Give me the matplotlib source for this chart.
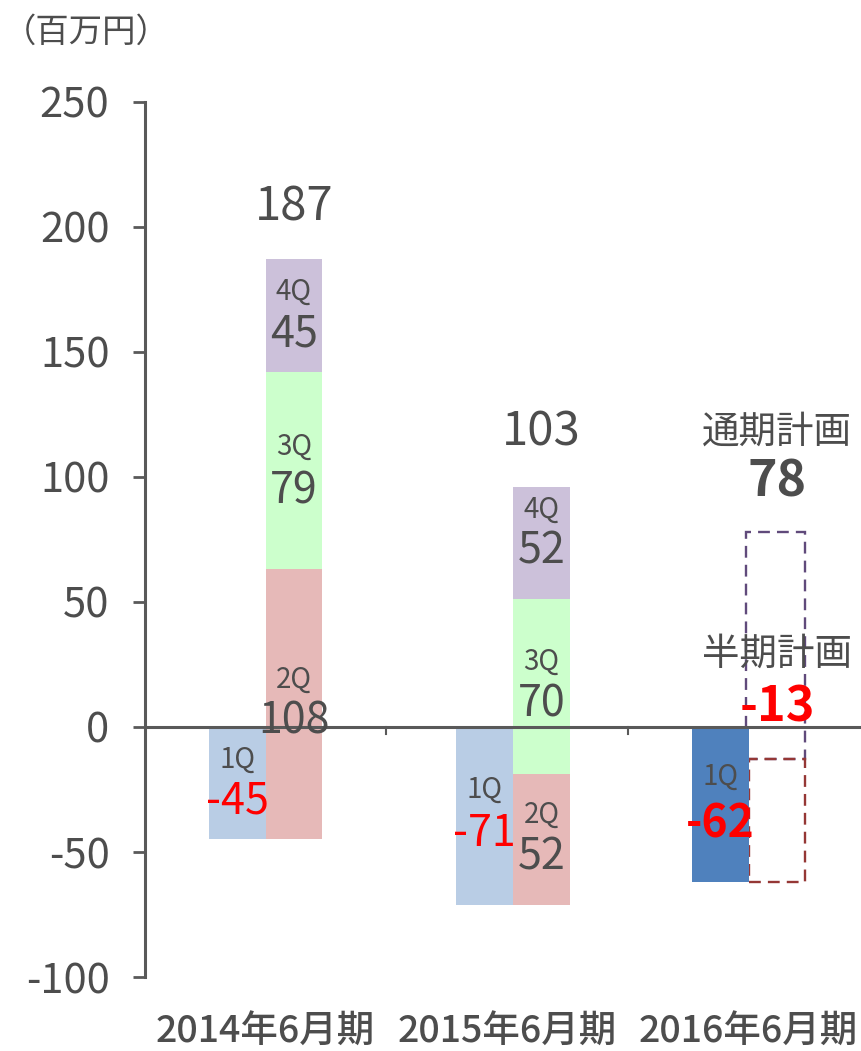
import matplotlib.pyplot as plt
from matplotlib.patches import Rectangle

plt.rcParams['font.family'] = ['Noto Sans CJK JP', 'DejaVu Sans']
plt.rcParams['axes.unicode_minus'] = False

# data (百万円)
categories = ['2014年6月期', '2015年6月期', '2016年6月期']
quarters = ['1Q', '2Q', '3Q', '4Q']
q_labels_2014 = [-45, 108, 79, 45]
q_labels_2015 = [-71, 52, 70, 52]
# drawn segment heights (2015 4Q is drawn shorter than its label in the original)
heights_2014 = [-45, 108, 79, 45]
heights_2015 = [-71, 52, 70, 45]
totals = [187, 103]
q1_2016 = -62
half_plan = -13
full_plan = 78

q_colors = ['#B9CDE5', '#E6B9B8', '#CCFFCC', '#CCC1DA']
dark_blue = '#4F81BD'
txt = '#4D4D4D'
red = '#FF0000'
w = 0.235
QS = 20   # quarter name size
VS = 31   # value size

fig = plt.figure(figsize=(8.62, 10.51), dpi=100)
ax = fig.add_axes([0.168, 0.0704, 0.832, 0.8326])
ax.set_ylim(-100, 250)
ax.set_xlim(-0.5, 2.47)


def draw_group(x, heights):
    # 1Q on the left, later quarters stacked on the right
    ax.bar(x - w / 2, heights[0], width=w, color=q_colors[0], zorder=2)
    base = heights[0]
    for i in range(1, 4):
        ax.bar(x + w / 2, heights[i], bottom=base, width=w, color=q_colors[i], zorder=2)
        base += heights[i]


def label(x, y, s, size, color=txt, bold=False):
    ax.text(x, y, s, ha='center', va='center', fontsize=size, color=color,
            fontweight='bold' if bold else 'normal', zorder=5)


# 2014
x0 = 0
draw_group(x0, heights_2014)
label(x0 - w / 2, -13, '1Q', QS)
label(x0 - w / 2, -30, str(q_labels_2014[0]), VS, red)
label(x0 + w / 2, 19, '2Q', QS)
label(x0 + w / 2, 2, str(q_labels_2014[1]), VS)
label(x0 + w / 2, 112, '3Q', QS)
label(x0 + w / 2, 94, str(q_labels_2014[2]), VS)
label(x0 + w / 2, 174, '4Q', QS)
label(x0 + w / 2, 157, str(q_labels_2014[3]), VS)
label(x0 + w / 2, 208, str(totals[0]), 34)

# 2015
x1 = 1.025
draw_group(x1, heights_2015)
label(x1 - w / 2, -25, '1Q', QS)
label(x1 - w / 2, -43, str(q_labels_2015[0]), VS, red)
label(x1 + w / 2, -35, '2Q', QS)
label(x1 + w / 2, -52, str(q_labels_2015[1]), VS)
label(x1 + w / 2, 26, '3Q', QS)
label(x1 + w / 2, 9, str(q_labels_2015[2]), VS)
label(x1 + w / 2, 87, '4Q', QS)
label(x1 + w / 2, 70, str(q_labels_2015[3]), VS)
label(x1 + w / 2, 118, str(totals[1]), 34)

# 2016: actual 1Q plus dashed plan boxes
x2 = 2
ax.bar(x2 - w / 2, q1_2016, width=w, color=dark_blue, zorder=3)
ax.add_patch(Rectangle((x2 - 0.012, half_plan), w + 0.012, full_plan - half_plan, fill=False,
                       edgecolor='#604A7B', linestyle=(0, (5, 3)), linewidth=1.7, zorder=1))
ax.add_patch(Rectangle((x2, q1_2016), w, half_plan - q1_2016, fill=False,
                       edgecolor='#953735', linestyle=(0, (5, 3)), linewidth=1.7, zorder=2))
label(x2 - w / 2, -20, '1Q', QS)
label(x2 - w / 2, -39, str(q1_2016), 32, red, bold=True)
label(x2 + w / 2, 118, '通期計画', 27)
label(x2 + w / 2, 98, str(full_plan), 36, bold=True)
label(x2 + w / 2, 29, '半期計画', 27)
label(x2 + w / 2, 8, str(half_plan), 35, red, bold=True)

# axes styling
ax.axhline(0, color='#595959', linewidth=2.2, zorder=4)
for x in [0.5, 1.5]:
    ax.plot([x, x], [0, -3], color='#595959', linewidth=1.5, zorder=4)
for s in ['top', 'right', 'bottom']:
    ax.spines[s].set_visible(False)
ax.spines['left'].set_color('#595959')
ax.spines['left'].set_linewidth(2.2)
ax.set_yticks(range(-100, 251, 50))
ax.tick_params(axis='y', length=8.5, width=2, color='#595959', labelsize=30, labelcolor=txt, pad=17)
ax.set_xticks(range(3))
ax.set_xticklabels(categories)
ax.tick_params(axis='x', length=0, labelsize=27, labelcolor=txt, pad=26)
for t in ax.get_xticklabels():
    t.set_fontweight('medium')

fig.text(0.1, 0.969, '（百万円）', ha='center', va='center', fontsize=24, color=txt)

plt.savefig('out.png')
